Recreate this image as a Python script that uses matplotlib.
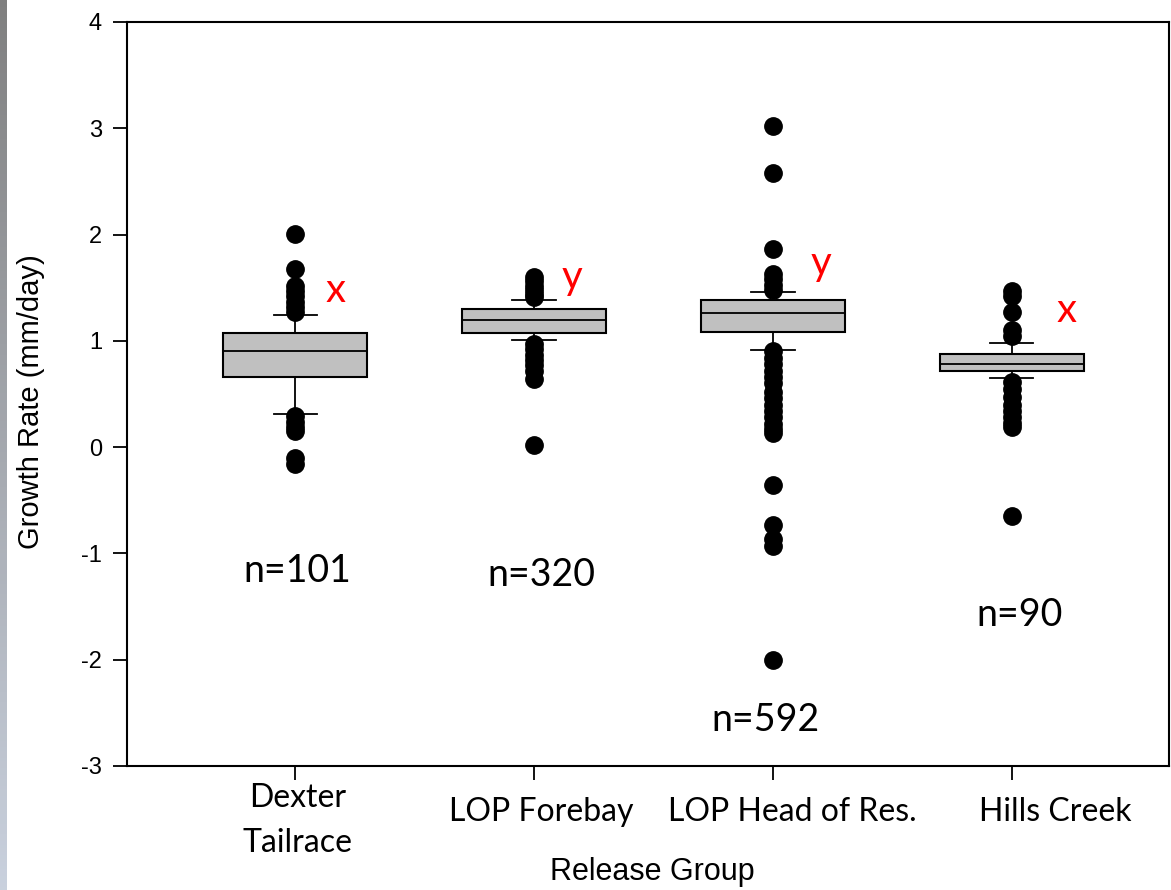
import numpy as np
from matplotlib import pyplot as plt

plt.rcParams['axes.unicode_minus'] = False

# donnees
groups = ["Dexter\nTailrace", "LOP Forebay", "LOP Head of Res.", "Hills Creek"]
n_labels = ["n=101", "n=320", "n=592", "n=90"]
letters = ["x", "y", "y", "x"]

q1 = [0.66, 1.07, 1.08, 0.72]
med = [0.90, 1.20, 1.26, 0.78]
q3 = [1.07, 1.30, 1.38, 0.88]
wlo = [0.31, 1.01, 0.91, 0.65]
whi = [1.24, 1.38, 1.46, 0.98]

fliers_dexter = [2.01, 1.68, 1.52, 1.47, 1.42, 1.37, 1.32, 1.27,
                 0.29, 0.24, 0.19, 0.15, -0.10, -0.16]
fliers_forebay = [1.60, 1.56, 1.52, 1.48, 1.44, 1.41,
                  0.97, 0.92, 0.87, 0.82, 0.77, 0.72, 0.64, 0.02]
fliers_head = [3.02, 2.58, 1.86, 1.63, 1.58, 1.53, 1.48,
               0.90, 0.84, 0.78, 0.72, 0.66, 0.60, 0.52, 0.46, 0.40,
               0.34, 0.28, 0.22, 0.17, 0.13, -0.36, -0.73, -0.86, -0.93, -2.0]
fliers_hills = [1.47, 1.42, 1.27, 1.10, 1.05,
                0.61, 0.55, 0.47, 0.40, 0.34, 0.28, 0.23, 0.19, -0.65]
fliers = [fliers_dexter, fliers_forebay, fliers_head, fliers_hills]

# positions des textes
letter_xy = [(1.17, 1.47), (2.16, 1.60), (3.20, 1.73), (4.23, 1.29)]
n_xy = [(1.01, -1.17), (2.03, -1.20), (2.97, -2.57), (4.03, -1.58)]
label_x = [1.01, 2.03, 3.08, 4.18]
label_y = [-0.073, -0.062, -0.062, -0.062]

fig = plt.figure(figsize=(11.71, 8.90), dpi=100)

# barre grise a gauche
gax = fig.add_axes([0, 0, 7 / 1171, 1])
grad = np.linspace(0, 1, 256).reshape(-1, 1, 1)
top = np.array([0.50, 0.50, 0.50])
bot = np.array([0.79, 0.82, 0.87])
gax.imshow(top + grad * (bot - top), aspect="auto")
gax.axis("off")

ax = fig.add_axes([127 / 1171, 124 / 890, 1042 / 1171, 744 / 890])

pos = np.arange(1, len(groups) + 1)
stats = []
for i in range(len(groups)):
    stats.append(dict(med=med[i], q1=q1[i], q3=q3[i], whislo=wlo[i],
                      whishi=whi[i], fliers=fliers[i]))

ax.bxp(stats, positions=pos, widths=0.6, patch_artist=True,
       boxprops=dict(facecolor="#c0c0c0", edgecolor="black", linewidth=1.5),
       medianprops=dict(color="black", linewidth=1.3),
       whiskerprops=dict(color="black", linewidth=1.3),
       capprops=dict(color="black", linewidth=1.3),
       capwidths=0.18,
       flierprops=dict(marker="o", markerfacecolor="black",
                       markeredgecolor="black", markersize=12.5))

for (lx, ly), t in zip(letter_xy, letters):
    ax.text(lx, ly, t, color="red", fontsize=29, ha="center", va="center",
            family=["Lato", "DejaVu Sans"])
for (nx, ny), t in zip(n_xy, n_labels):
    ax.text(nx, ny, t, fontsize=27, ha="center", va="center",
            family=["Lato", "DejaVu Sans"])

ax.set_xlim(0.297, 4.657)
ax.set_ylim(-3, 4)
ax.set_yticks(range(-3, 5))
ax.set_xticks(pos)
ax.set_xticklabels([])
ax.tick_params(axis="y", direction="out", length=10, width=1.3,
               labelsize=17, pad=8)
ax.tick_params(axis="x", direction="out", length=10, width=1.3)
for lab in ax.get_yticklabels():
    lab.set_family(["Liberation Sans", "DejaVu Sans"])
for s in ax.spines.values():
    s.set_linewidth(1.5)

# etiquettes des groupes
for x, y, t in zip(label_x, label_y, groups):
    ax.text(x, y, t, transform=ax.get_xaxis_transform(), ha="center",
            va="center", fontsize=23, linespacing=1.6,
            family=["Lato", "DejaVu Sans"])

ax.text(-0.092, 0.49, "Growth Rate (mm/day)", transform=ax.transAxes,
        rotation=90, ha="center", va="center", fontsize=21,
        family=["Liberation Sans", "DejaVu Sans"])
ax.text(0.504, -0.142, "Release Group", transform=ax.transAxes, ha="center",
        va="center", fontsize=22,
        family=["Liberation Sans", "DejaVu Sans"])

fig.savefig("out.png", dpi=100)
